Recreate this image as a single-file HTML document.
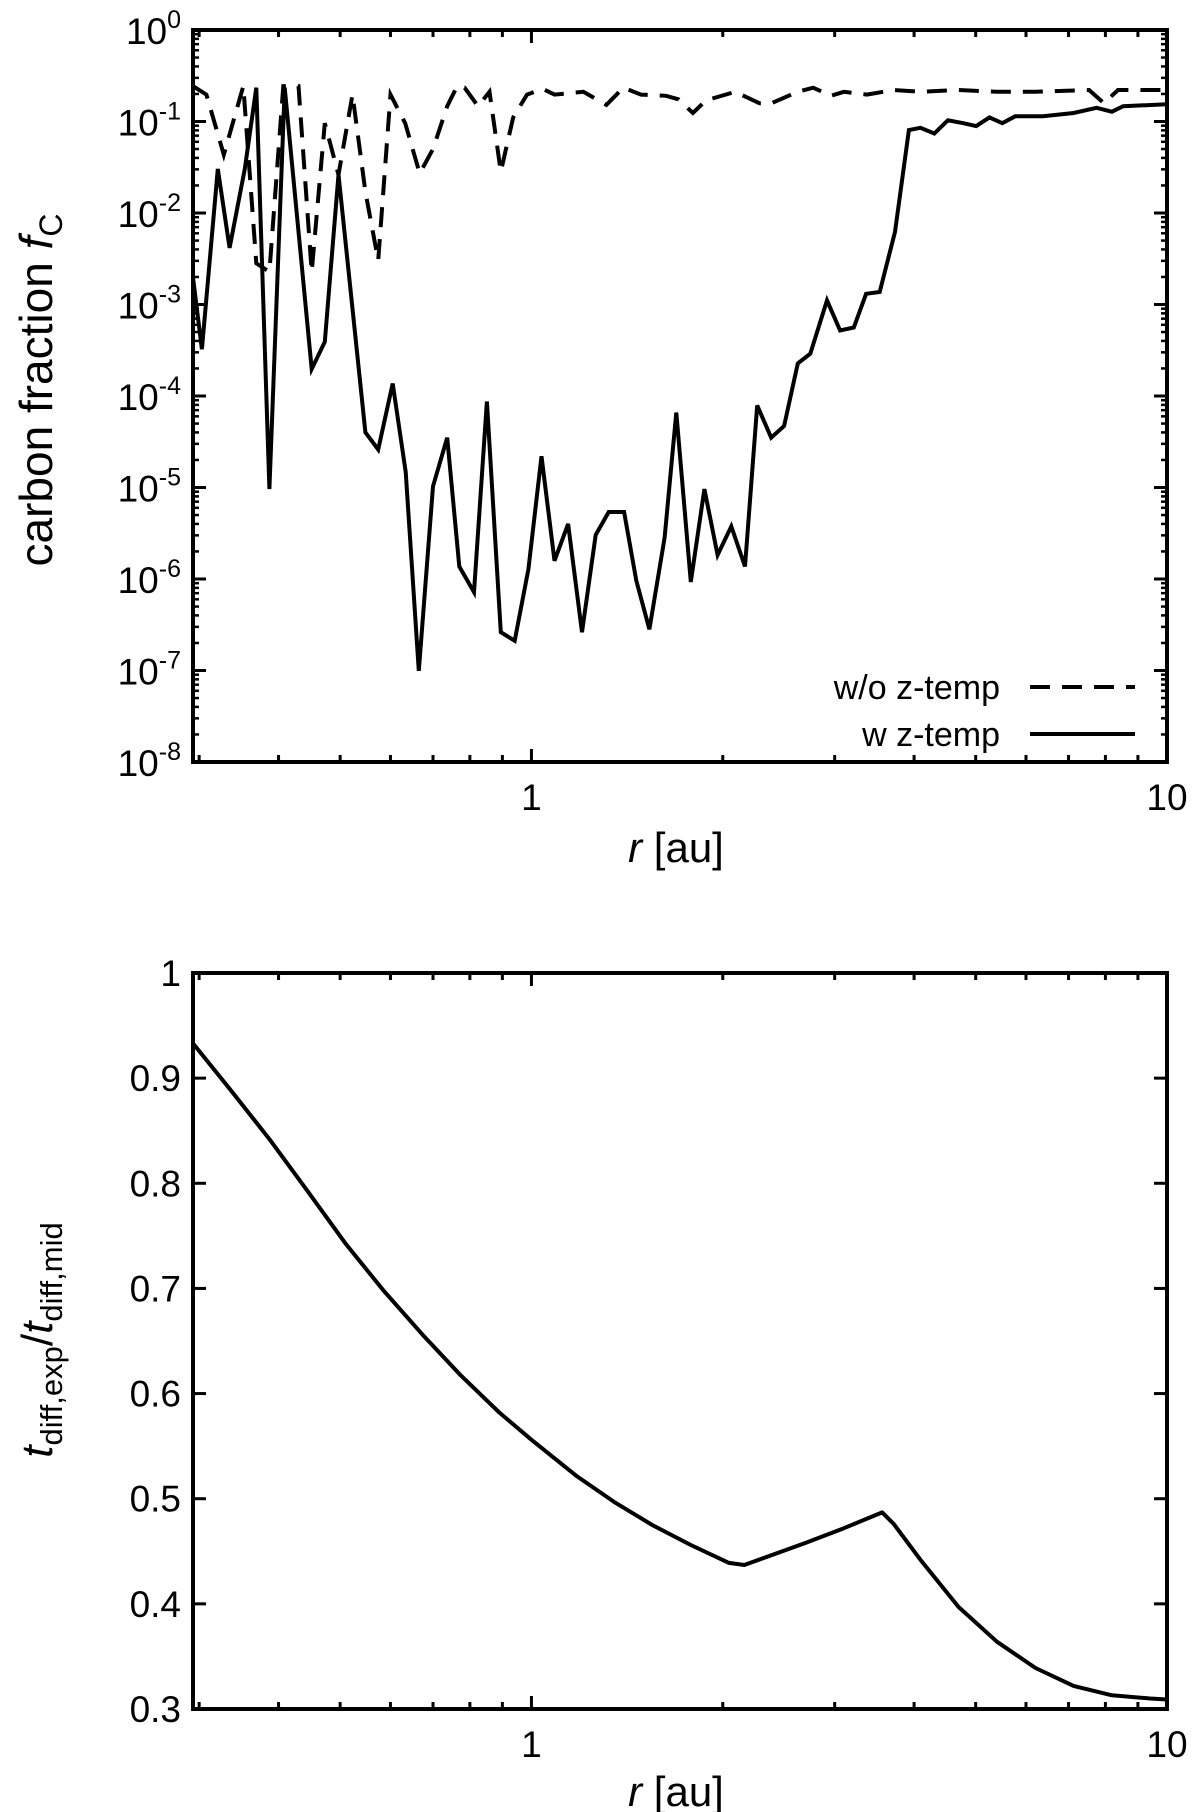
<!DOCTYPE html>
<html><head><meta charset="utf-8">
<style>
html,body{margin:0;padding:0;background:#fff;}
svg{display:block;font-family:"Liberation Sans",sans-serif;}
</style></head>
<body>
<svg id="fig" width="1200" height="1812" viewBox="0 0 1200 1812" xmlns="http://www.w3.org/2000/svg"></svg>
<script>
// ---- Top panel data ----
const rSolid = [0.2934,0.303,0.321,0.335,0.354,0.369,0.387,0.409,0.451,0.473,0.497,0.548,0.574,0.605,0.634,0.665,0.700,0.737,0.770,0.812,0.851,0.895,0.941,0.989,1.037,1.087,1.142,1.201,1.262,1.323,1.399,1.462,1.533,1.62,1.69,1.781,1.871,1.963,2.063,2.168,2.266,2.384,2.498,2.625,2.746,2.918,3.059,3.215,3.362,3.532,3.733,3.926,4.093,4.304,4.522,4.78,5.01,5.254,5.506,5.77,6.38,7.13,7.75,8.19,8.53,10];
const fcSolid = [0.00197,3.25e-4,0.0303,0.00416,0.0303,0.234,9.6e-6,0.234,1.97e-4,3.9e-4,
0.0262,4.0e-5,2.6e-5,1.37e-4,1.48e-5,9.9e-8,1.03e-5,3.5e-5,1.37e-6,7.2e-7,
8.7e-5,2.62e-7,2.11e-7,1.28e-6,2.2e-5,1.58e-6,4.0e-6,2.62e-7,3.03e-6,5.4e-6,
5.4e-6,9.6e-7,2.82e-7,2.82e-6,6.6e-5,9.3e-7,9.6e-6,1.83e-6,3.76e-6,1.37e-6,
7.9e-5,3.5e-5,4.7e-5,2.27e-4,2.9e-4,0.00111,5.2e-4,5.6e-4,0.00131,0.00137,
0.00622,0.0805,0.0853,0.0739,0.103,0.0958,0.0891,0.111,0.0958,0.114,
0.114,0.124,0.141,0.128,0.147,0.154];
const rDash = [0.2934,0.308,0.328,0.352,0.369,0.387,0.407,0.430,0.451,0.473,0.497,0.523,0.548,0.574,0.600,0.633,0.667,0.700,0.737,0.764,0.785,0.824,0.859,0.895,0.936,0.984,1.042,1.087,1.207,1.312,1.395,1.487,1.629,1.703,1.795,1.882,2.092,2.285,2.384,2.625,2.775,2.958,3.102,3.372,3.715,4.093,4.70,5.401,6.21,7.54,7.96,8.37,10];
const fcDash = [0.244,0.197,0.0434,0.244,0.00282,0.00227,0.244,0.244,0.00227,0.0958,
0.0262,0.197,0.017,0.00303,0.197,0.0958,0.027,0.0501,0.147,0.244,
0.234,0.147,0.211,0.0282,0.111,0.197,0.227,0.197,0.211,0.152,
0.234,0.197,0.191,0.175,0.124,0.170,0.211,0.158,0.158,0.211,
0.234,0.191,0.211,0.197,0.221,0.211,0.221,0.211,0.211,0.221,
0.158,0.221,0.221];
const topYExps = [0,-1,-2,-3,-4,-5,-6,-7,-8];
const xTickVals = [1,10];
const xTickLabels = ["1","10"];
// ---- Bottom panel data ----
const rRatio = [0.2934,0.337,0.387,0.445,0.511,0.587,0.674,0.775,0.890,1,1.175,1.349,1.549,1.781,2.046,2.162,2.70,3.102,3.563,3.715,4.093,4.70,5.40,6.21,7.13,8.19,9.41,10];
const ratio = [0.933,0.888,0.842,0.792,0.742,0.697,0.656,0.617,0.582,0.556,0.522,0.497,0.475,0.456,0.439,0.437,0.458,0.472,0.487,0.476,0.442,0.397,0.364,0.339,0.322,0.313,0.310,0.309];
const botYTicks = [0.3,0.4,0.5,0.6,0.7,0.8,0.9,1];
const botYLabels = ["0.3","0.4","0.5","0.6","0.7","0.8","0.9","1"];

const NS="http://www.w3.org/2000/svg";
const svg=document.getElementById('fig');
function mk(tag,attrs,parent){const e=document.createElementNS(NS,tag);for(const k in attrs)e.setAttribute(k,attrs[k]);(parent||svg).appendChild(e);return e;}

const L=193,R=1167,XMIN=0.2934,XMAX=10;
function xs(r){return L+(Math.log10(r)-Math.log10(XMIN))/(Math.log10(XMAX)-Math.log10(XMIN))*(R-L);}
const T1=30,B1=762;
function y1(v){return T1+(0-Math.log10(v))/8*(B1-T1);}
const T2=973,B2=1709;
function y2(v){return B2-(v-0.3)/0.7*(B2-T2);}

function xMinorTicks(g,T,B){
  const vals=[0.3,0.4,0.5,0.6,0.7,0.8,0.9,2,3,4,5,6,7,8,9];
  vals.forEach(v=>{const x=xs(v);
    mk('line',{x1:x,y1:B,x2:x,y2:B-7,stroke:'#000','stroke-width':3},g);
    mk('line',{x1:x,y1:T,x2:x,y2:T+7,stroke:'#000','stroke-width':3},g);});
  xTickVals.forEach(v=>{const x=xs(v);
    mk('line',{x1:x,y1:B,x2:x,y2:B-13,stroke:'#000','stroke-width':3},g);
    mk('line',{x1:x,y1:T,x2:x,y2:T+13,stroke:'#000','stroke-width':3},g);});
}
function xLabels(g,B){
  xTickVals.forEach((v,i)=>{const t=mk('text',{x:xs(v),y:B+48,'font-size':37,'text-anchor':'middle'},g);t.textContent=xTickLabels[i];});
}
function path(pts){return pts.map((p,i)=>(i?'L':'M')+p[0].toFixed(1)+','+p[1].toFixed(1)).join(' ');}

// ===== TOP PANEL =====
const g1=mk('g',{});


const clip=mk('clipPath',{id:'c1'});mk('rect',{x:L,y:T1,width:R-L,height:B1-T1},clip);
const dash=mk('path',{d:path(rDash.map((r,i)=>[xs(r),y1(fcDash[i])])),fill:'none',stroke:'#000','stroke-width':4,'stroke-dasharray':'20,12','clip-path':'url(#c1)'},g1);


const solid=mk('path',{d:path(rSolid.map((r,i)=>[xs(r),y1(fcSolid[i])])),fill:'none',stroke:'#000','stroke-width':4,'stroke-linejoin':'miter','clip-path':'url(#c1)'},g1);


topYExps.forEach(e=>{const y=y1(Math.pow(10,e));
  mk('line',{x1:L,y1:y,x2:L+13,y2:y,stroke:'#000','stroke-width':3},g1);
  mk('line',{x1:R,y1:y,x2:R-13,y2:y,stroke:'#000','stroke-width':3},g1);
  if(e>-8){for(let m=2;m<=9;m++){const yy=y1(m*Math.pow(10,e-1));
    mk('line',{x1:L,y1:yy,x2:L+6,y2:yy,stroke:'#000','stroke-width':2.5},g1);
    mk('line',{x1:R,y1:yy,x2:R-6,y2:yy,stroke:'#000','stroke-width':2.5},g1);}}
  const t=mk('text',{x:L-12,y:y+14,'font-size':37,'text-anchor':'end'},g1);
  
  
  t.innerHTML='10<tspan dy="-16" font-size="25">'+e+'</tspan>';
});
xMinorTicks(g1,T1,B1);
xLabels(g1,B1);
mk('rect',{x:L,y:T1,width:R-L,height:B1-T1,fill:'none',stroke:'#000','stroke-width':4},g1);
const xt1=mk('text',{x:676,y:862,'font-size':42,'text-anchor':'middle'},g1);


xt1.innerHTML='<tspan font-style="italic">r</tspan> [au]';
const yt1=mk('text',{x:0,y:0,'font-size':46,'text-anchor':'middle',transform:'translate(52,390) rotate(-90)'},g1);


yt1.innerHTML='carbon fraction <tspan font-style="italic">f</tspan><tspan dy="10" font-size="32">C</tspan>';
const lg=mk('g',{},g1);


const l1=mk('text',{x:1000,y:699,'font-size':34,'text-anchor':'end'},lg);l1.textContent='w/o z-temp';


mk('line',{x1:1030,y1:687,x2:1135,y2:687,stroke:'#000','stroke-width':4,'stroke-dasharray':'20,12'},lg);
const l2=mk('text',{x:1000,y:746,'font-size':34,'text-anchor':'end'},lg);l2.textContent='w z-temp';


mk('line',{x1:1030,y1:734,x2:1135,y2:734,stroke:'#000','stroke-width':4},lg);

// ===== BOTTOM PANEL =====
const g2=mk('g',{});


const rl=mk('path',{d:path(rRatio.map((r,i)=>[xs(r),y2(ratio[i])])),fill:'none',stroke:'#000','stroke-width':4,'stroke-linejoin':'round'},g2);


botYTicks.forEach((v,i)=>{const y=y2(v);
  mk('line',{x1:L,y1:y,x2:L+13,y2:y,stroke:'#000','stroke-width':3},g2);
  mk('line',{x1:R,y1:y,x2:R-13,y2:y,stroke:'#000','stroke-width':3},g2);
  const t=mk('text',{x:L-12,y:y+13,'font-size':37,'text-anchor':'end'},g2);
  
  
  t.textContent=botYLabels[i];
});
xMinorTicks(g2,T2,B2);
xLabels(g2,B2);
mk('rect',{x:L,y:T2,width:R-L,height:B2-T2,fill:'none',stroke:'#000','stroke-width':4},g2);
const xt2=mk('text',{x:676,y:1806,'font-size':42,'text-anchor':'middle'},g2);


xt2.innerHTML='<tspan font-style="italic">r</tspan> [au]';
const yt2=mk('text',{x:0,y:0,'font-size':44,'text-anchor':'middle',transform:'translate(52,1340) rotate(-90)'},g2);


yt2.innerHTML='<tspan font-style="italic">t</tspan><tspan dy="10" font-size="31">diff,exp</tspan><tspan dy="-10">/</tspan><tspan font-style="italic">t</tspan><tspan dy="10" font-size="31">diff,mid</tspan>';
</script>
</body></html>
